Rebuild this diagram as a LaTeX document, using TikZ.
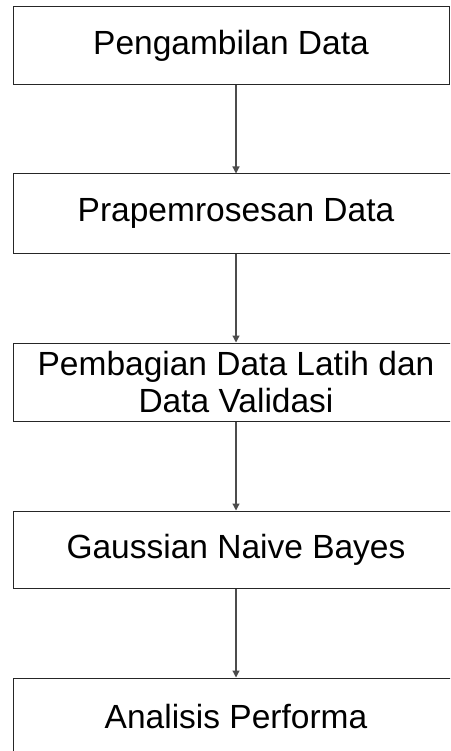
\documentclass[tikz,border=0pt]{standalone}
\usepackage{fontspec}
\setmainfont{Liberation Sans}
\usetikzlibrary{arrows.meta}
\begin{document}
\begin{tikzpicture}[x=1pt,y=-1pt,
  stepbox/.style={draw=black!85,line width=1pt,rectangle,inner sep=0pt,
    font=\fontsize{33.5}{37.5}\selectfont,align=center},
  conn/.style={draw=black!70,line width=1.2pt,-{Triangle[length=7pt,width=7pt]}}]
\useasboundingbox (0,0) rectangle (450,751);
\clip (0,0) rectangle (450,751);
\node[stepbox,minimum width=436pt,minimum height=78pt] (a) at (231,46) {Pengambilan Data};
\node[stepbox,minimum width=446pt,minimum height=79pt] (b) at (236,213.5) {Prapemrosesan Data};
\node[stepbox,minimum width=446pt,minimum height=78pt] (c) at (236,382) {Pembagian Data Latih dan\\Data Validasi};
\node[stepbox,minimum width=446pt,minimum height=77pt] (d) at (236,549.5) {Gaussian Naive Bayes};
\node[stepbox,minimum width=446pt,minimum height=78pt] (e) at (236,717) {Analisis Performa};
\draw[conn] (a.south -| b.north) -- (b.north);
\draw[conn] (b) -- (c);
\draw[conn] (c) -- (d);
\draw[conn] (d) -- (e);
\end{tikzpicture}
\end{document}
